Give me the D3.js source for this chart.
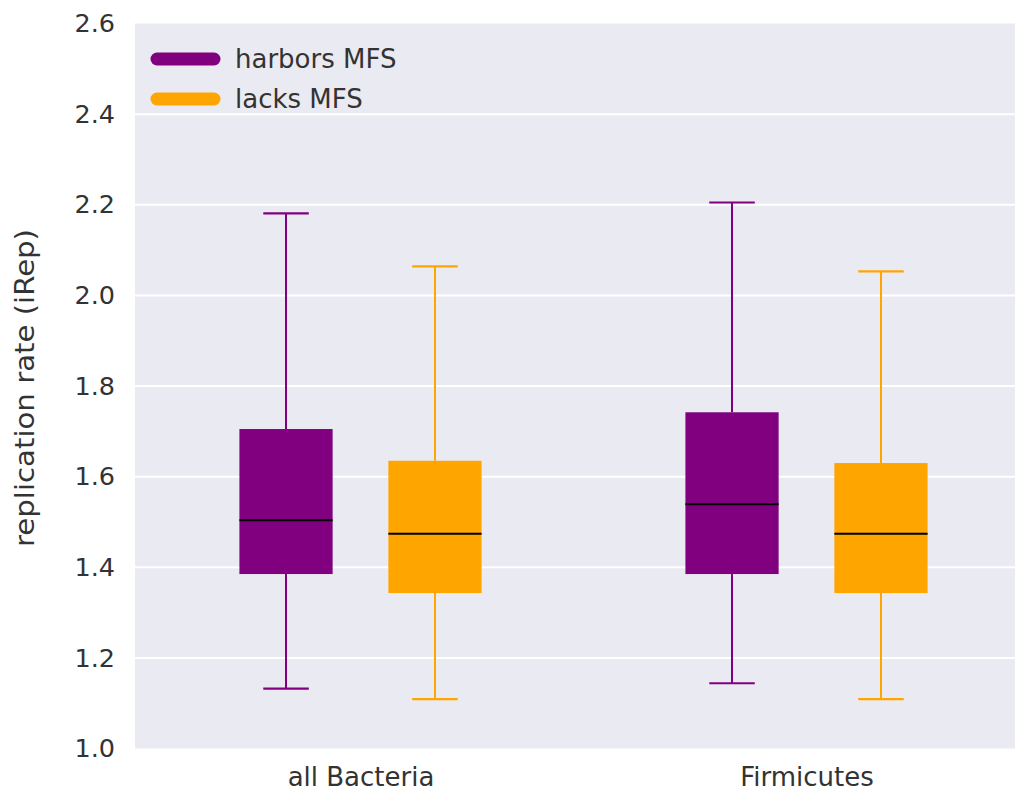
<!DOCTYPE html>
<html>
<head>
<meta charset="utf-8">
<script src="https://cdn.jsdelivr.net/npm/d3@7"></script>
<style>
  html, body { margin: 0; padding: 0; background: #ffffff; }
  svg { display: block; }
  text { font-family: "DejaVu Sans", sans-serif; fill: #262626; }
</style>
</head>
<body>
<svg id="chart" width="1015" height="793"></svg>
<script>
// Groups along the x axis and the two hue levels
const categories = ["all Bacteria", "Firmicutes"];
const groups = ["harbors MFS", "lacks MFS"];
const groupColors = ["#800080", "#FFA500"];

// Box statistics per category, one array per hue level
// each entry: [lower whisker, Q1, median, Q3, upper whisker]
const harborsStats = [
  [1.132, 1.385, 1.504, 1.705, 2.181],
  [1.144, 1.385, 1.539, 1.742, 2.205]
];
const lacksStats = [
  [1.109, 1.343, 1.474, 1.635, 2.064],
  [1.109, 1.343, 1.474, 1.630, 2.053]
];

const yTicks = [1.0, 1.2, 1.4, 1.6, 1.8, 2.0, 2.2, 2.4, 2.6];
const yLabel = "replication rate (iRep)";

const svg = d3.select("#chart");
const plot = { left: 135, right: 1015, top: 23.5, bottom: 748.5 };

const y = d3.scaleLinear().domain([1.0, 2.6]).range([plot.bottom, plot.top]);
// category positions in index units; the panel runs slightly past the right edge
const x = d3.scaleLinear().domain([-0.5, 1.5]).range([137.5, 1029.5]);
const unit = x(1) - x(0);

const hueOffset = [-0.167, 0.167];
const boxWidth = 0.209;
const capWidth = 0.102;

// panel background
svg.append("rect")
  .attr("x", plot.left).attr("y", plot.top)
  .attr("width", plot.right - plot.left).attr("height", plot.bottom - plot.top)
  .attr("fill", "#EAEAF2");

// horizontal grid lines
svg.append("g").selectAll("line")
  .data(yTicks.filter(t => t > 1.0 && t < 2.6))
  .join("line")
  .attr("x1", plot.left).attr("x2", plot.right)
  .attr("y1", d => y(d)).attr("y2", d => y(d))
  .attr("stroke", "#ffffff").attr("stroke-width", 2);

// y axis (ticks hidden, labels only)
const yAxis = d3.axisLeft(y).tickValues(yTicks).tickFormat(d3.format(".1f")).tickSize(0).tickPadding(20);
const yg = svg.append("g").attr("transform", `translate(${plot.left},0)`).call(yAxis);
yg.select(".domain").remove();
yg.selectAll("text").attr("font-size", 25.5).style("fill", "#333333").attr("font-family", "DejaVu Sans");

// x axis labels
const xAxis = d3.axisBottom(x).tickValues([0, 1]).tickFormat(i => categories[i]).tickSize(0).tickPadding(19);
const xg = svg.append("g").attr("transform", `translate(0,${plot.bottom})`).call(xAxis);
xg.select(".domain").remove();
xg.selectAll("text").attr("font-size", 26).style("fill", "#333333").attr("font-family", "DejaVu Sans");

// y axis title
svg.append("text")
  .attr("transform", `translate(34,388) rotate(-90)`)
  .attr("text-anchor", "middle")
  .attr("font-size", 27)
  .attr("textLength", 318)
  .attr("lengthAdjust", "spacingAndGlyphs")
  .style("fill", "#333333")
  .text(yLabel);

// boxes
const allStats = [harborsStats, lacksStats];
allStats.forEach((stats, g) => {
  const color = groupColors[g];
  const layer = svg.append("g");
  stats.forEach((s, c) => {
    const cx = x(c + hueOffset[g]);
    const bw = boxWidth * unit;
    const cw = capWidth * unit;
    const [lo, q1, med, q3, hi] = s;
    // whiskers
    layer.append("line").attr("x1", cx).attr("x2", cx).attr("y1", y(q3)).attr("y2", y(hi))
      .attr("stroke", color).attr("stroke-width", 2);
    layer.append("line").attr("x1", cx).attr("x2", cx).attr("y1", y(q1)).attr("y2", y(lo))
      .attr("stroke", color).attr("stroke-width", 2);
    // caps
    layer.append("line").attr("x1", cx - cw / 2).attr("x2", cx + cw / 2).attr("y1", y(hi)).attr("y2", y(hi))
      .attr("stroke", color).attr("stroke-width", 2.2);
    layer.append("line").attr("x1", cx - cw / 2).attr("x2", cx + cw / 2).attr("y1", y(lo)).attr("y2", y(lo))
      .attr("stroke", color).attr("stroke-width", 2.2);
    // box
    layer.append("rect").attr("x", cx - bw / 2).attr("y", y(q3))
      .attr("width", bw).attr("height", y(q1) - y(q3))
      .attr("fill", color);
    // median
    layer.append("line").attr("x1", cx - bw / 2).attr("x2", cx + bw / 2).attr("y1", y(med)).attr("y2", y(med))
      .attr("stroke", "#000000").attr("stroke-width", 2);
  });
});

// legend
const legend = svg.append("g");
groups.forEach((name, i) => {
  const ly = 59 + i * 40;
  legend.append("line")
    .attr("x1", 157).attr("x2", 214).attr("y1", ly).attr("y2", ly)
    .attr("stroke", groupColors[i]).attr("stroke-width", 13).attr("stroke-linecap", "round");
  legend.append("text")
    .attr("x", 235).attr("y", ly + 9)
    .attr("font-size", 26)
    .style("fill", "#333333")
    .text(name);
});
</script>
</body>
</html>
